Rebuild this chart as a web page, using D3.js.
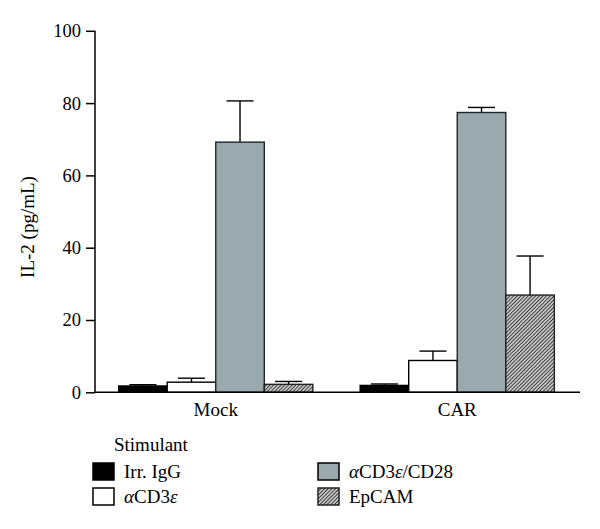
<!DOCTYPE html>
<html><head><meta charset="utf-8">
<script src="https://cdn.jsdelivr.net/npm/d3@7"></script>
<style>body{margin:0;background:#fff}text{font-family:"Liberation Serif","Times New Roman",serif}</style>
</head><body><svg id="c" width="600" height="529"></svg>
<script>
const groups = ["Mock", "CAR"];
const stimulants = ["Irr. IgG", "αCD3ε", "αCD3ε/CD28", "EpCAM"];
const meanMock = [1.75, 2.8, 69.2, 2.2];
const meanCAR  = [1.9, 8.8, 77.4, 26.9];
const errMock  = [0.35, 1.1, 11.4, 0.8];
const errCAR   = [0.4, 2.6, 1.4, 10.8];
const yTicks = [0, 20, 40, 60, 80, 100];

const svg = d3.select("#c");
const defs = svg.append("defs");
const pat = defs.append("pattern").attr("id","hatch").attr("patternUnits","userSpaceOnUse")
  .attr("width",2.6).attr("height",2.6).attr("patternTransform","rotate(45)");
pat.append("rect").attr("width",2.6).attr("height",2.6).attr("fill","#c8c8c8");
pat.append("line").attr("x1",0).attr("y1",0).attr("x2",0).attr("y2",2.6).attr("stroke","#222").attr("stroke-width",1.6);

const fills = ["#000", "#fff", "#9aa9ae", "url(#hatch)"];
const strokes = ["#000", "#000", "#1e2628", "#222"];

const x0 = d3.scaleBand().domain(groups).range([95, 578]).paddingInner(0.196).paddingOuter(0.098);
const x1 = d3.scaleBand().domain(stimulants).range([0, x0.bandwidth()]);
const y = d3.scaleLinear().domain([0, 100]).range([392.3, 30.8]);

const data = [];
groups.forEach((g, gi) => {
  const m = gi === 0 ? meanMock : meanCAR;
  const e = gi === 0 ? errMock : errCAR;
  stimulants.forEach((s, si) => data.push({g, s, si, v: m[si], e: e[si]}));
});

const bars = svg.append("g");
bars.selectAll("g.err").data(data).join("g").attr("class","err").each(function(d){
  const cx = x0(d.g) + x1(d.s) + x1.bandwidth()/2;
  const g = d3.select(this);
  g.append("line").attr("x1",cx).attr("x2",cx).attr("y1",y(d.v)).attr("y2",y(d.v+d.e)).attr("stroke","#000").attr("stroke-width",1.4);
  g.append("line").attr("x1",cx-13.5).attr("x2",cx+13.5).attr("y1",y(d.v+d.e)).attr("y2",y(d.v+d.e)).attr("stroke","#000").attr("stroke-width",1.4);
});
bars.selectAll("rect").data(data).join("rect")
  .attr("x", d => x0(d.g) + x1(d.s))
  .attr("y", d => y(d.v))
  .attr("width", x1.bandwidth())
  .attr("height", d => y(0) - y(d.v))
  .attr("fill", d => fills[d.si])
  .attr("stroke", d => strokes[d.si])
  .attr("stroke-width", 1.4);

const yAxis = svg.append("g").attr("transform","translate(95,0)")
  .call(d3.axisLeft(y).tickValues(yTicks).tickSize(9).tickPadding(5));
yAxis.select(".domain").attr("stroke","#000").attr("stroke-width",1.5).attr("d", `M0,${y(100)}V${y(0)}`);
yAxis.selectAll(".tick line").attr("stroke","#000").attr("stroke-width",1.5);
yAxis.selectAll(".tick text").attr("font-size",18.5).attr("fill","#000").attr("font-family","Liberation Serif");

const xAxis = svg.append("g").attr("transform",`translate(0,${y(0)})`)
  .call(d3.axisBottom(x0).tickSize(0).tickPadding(10));
xAxis.select(".domain").attr("stroke","#000").attr("stroke-width",1.5).attr("d","M95,0H580");
xAxis.selectAll(".tick text").attr("font-size",19).attr("fill","#000").attr("font-family","Liberation Serif");

svg.append("text").attr("transform","translate(34,227) rotate(-90)").attr("text-anchor","middle")
  .attr("font-size",19).text("IL-2 (pg/mL)");

const lg = svg.append("g");
lg.append("text").attr("x",114).attr("y",451).attr("font-size",19).text("Stimulant");
const pos = [[93,463],[93,488],[318,463],[318,488]];
const labels = [
  [{t:"Irr. IgG"}],
  [{t:"α",i:true},{t:"CD3"},{t:"ε",i:true}],
  [{t:"α",i:true},{t:"CD3"},{t:"ε",i:true},{t:"/CD28"}],
  [{t:"EpCAM"}]
];
stimulants.forEach((s,i) => {
  lg.append("rect").attr("x",pos[i][0]).attr("y",pos[i][1]).attr("width",21).attr("height",17)
    .attr("fill",fills[i]).attr("stroke",i===2?"#000":strokes[i]).attr("stroke-width",1.5);
  const t = lg.append("text").attr("x",pos[i][0]+31).attr("y",pos[i][1]+15).attr("font-size",19);
  labels[i].forEach(p => t.append("tspan").attr("font-style",p.i?"italic":null).text(p.t));
});
</script></body></html>
